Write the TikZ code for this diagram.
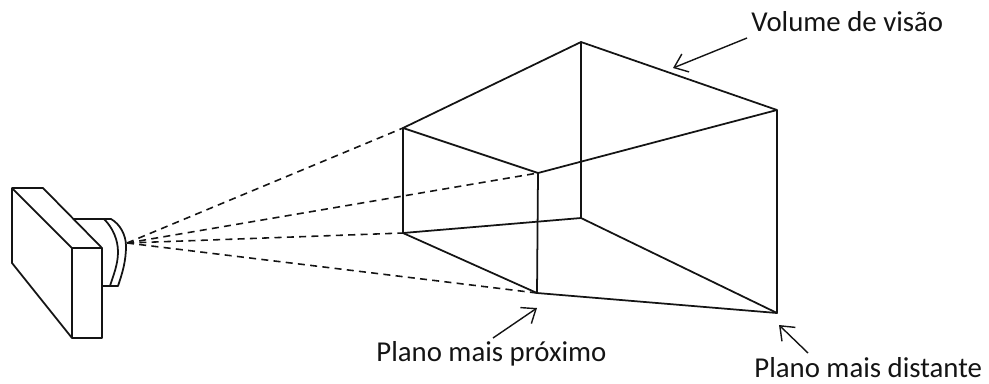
\documentclass[tikz,border=0pt]{standalone}
\usepackage{fontspec}
\setmainfont{Carlito}
\usetikzlibrary{arrows.meta}
\definecolor{ink}{RGB}{20,20,20}
\begin{document}
\begin{tikzpicture}[
    x=0.02cm, y=-0.02cm,
    edgeline/.style={draw=ink, line width=1pt, line join=round},
    cam/.style={draw=ink, line width=1pt, line join=round},
    ray/.style={draw=ink, line width=0.9pt, dash pattern=on 4pt off 3pt},
    callout/.style={-{Straight Barb[length=7pt, width=11pt]}, draw=ink, line width=0.8pt},
    lbl/.style={font=\fontsize{16.4pt}{18pt}\selectfont, text=ink, inner sep=0pt}
  ]
  \useasboundingbox (0,0) rectangle (989,383);
  % ---------------- near plane ----------------
  \coordinate (n1) at (403,128);
  \coordinate (n2) at (538,173);
  \coordinate (n3) at (537,293);
  \coordinate (n4) at (403,233);
  % ---------------- far plane ----------------
  \coordinate (f1) at (581,42);
  \coordinate (f2) at (777,110);
  \coordinate (f3) at (777,313);
  \coordinate (f4) at (581,218);
  % ---------------- camera ----------------
  \coordinate (eye) at (127,243);
  \draw[cam] (12,188) -- (43,188) -- (102,248) -- (102,338) -- (72,338) -- (12,263) -- cycle;
  \draw[cam] (12,188) -- (72,248) -- (102,248);
  \draw[cam] (72,248) -- (72,338);
  \draw[cam] (74,219) -- (111,219) .. controls (120,224) and (126,235) .. (126,246)
    .. controls (126,262) and (122,274) .. (118,286) -- (102,286);
  \draw[cam] (104,219) .. controls (113,228) and (118,240) .. (118,252)
    .. controls (118,265) and (113,276) .. (110,286);
  % ---------------- rays ----------------
  \draw[ray] (eye) -- (n1);
  \draw[ray] (eye) -- (n2);
  \draw[ray] (eye) -- (n4);
  \draw[ray] (eye) -- (n3);
  % ---------------- frustum ----------------
  \draw[edgeline] (n1) -- (n2) -- (n3) -- (n4) -- cycle;
  \draw[edgeline] (f1) -- (f2) -- (f3) -- (f4) -- cycle;
  \draw[edgeline] (n1) -- (f1);
  \draw[edgeline] (n2) -- (f2);
  \draw[edgeline] (n3) -- (f3);
  \draw[edgeline] (n4) -- (f4);
  % ---------------- labels ----------------
  \node[lbl, anchor=west] (volume) at (751,22) {Volume de visão};
  \node[lbl, anchor=west] (near) at (376,354) {Plano mais próximo};
  \node[lbl, anchor=west] (far) at (754,368) {Plano mais distante};
  \coordinate (volfrom) at (747,38);
  \coordinate (volto) at (673,68);
  \coordinate (nearfrom) at (493,338);
  \coordinate (nearto) at (537,308);
  \coordinate (farfrom) at (808,353);
  \coordinate (farto) at (779,325);
  \draw[callout] (volfrom) -- (volto);
  \draw[callout] (nearfrom) -- (nearto);
  \draw[callout] (farfrom) -- (farto);
\end{tikzpicture}
\end{document}
